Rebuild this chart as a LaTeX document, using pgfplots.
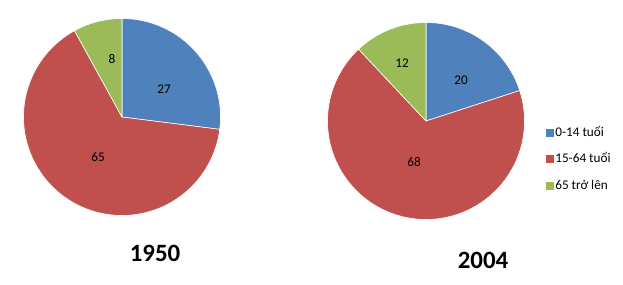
\documentclass[border=0pt]{standalone}
\usepackage{pgfplots}
\pgfplotsset{compat=1.18}
\usepackage{fontspec}
\setmainfont{Carlito}
\definecolor{cblue}{HTML}{4F81BD}
\definecolor{cred}{HTML}{C0504D}
\definecolor{cgreen}{HTML}{9BBB59}
% data (percent)
\def\LA{27}\def\LB{65}\def\LC{8}   % 1950
\def\RA{20}\def\RB{68}\def\RC{12}  % 2004
\pgfmathsetmacro\La{90-3.6*\LA}
\pgfmathsetmacro\Lb{\La-3.6*\LB}
\pgfmathsetmacro\Lc{\Lb-3.6*\LC}
\pgfmathsetmacro\Ra{90-3.6*\RA}
\pgfmathsetmacro\Rb{\Ra-3.6*\RB}
\pgfmathsetmacro\Rc{\Rb-3.6*\RC}
\newcommand\pieslice[6]{%
  \addplot[fill=#1, draw=white, line width=0.6bp, domain=#4:#5, samples=90, variable=\t, #6]
    ({#2+98.5*cos(\t)},{#3-98.5*sin(\t)}) -- (#2,#3) -- cycle;}
\begin{document}
\begin{tikzpicture}
\begin{axis}[
  width=623bp, height=285bp, scale only axis,
  xmin=0, xmax=623, ymin=0, ymax=285, y dir=reverse,
  hide axis, clip=false,
  legend style={at={(axis cs:545,125.5)}, anchor=north west, draw=none, fill=none,
    inner sep=0pt, row sep=12.5bp, font=\fontsize{13.3}{15}\selectfont,
    nodes={inner sep=0.5bp, text height=10bp, text depth=3bp}},
  legend cell align=left,
  legend image code/.code={\fill[#1] (0bp,-4.5bp) rectangle (9bp,4.5bp);},
]
\path (axis cs:0,0) rectangle (axis cs:623,285);
% 1950
\pieslice{cblue}{122}{117}{90}{\La}{forget plot}
\pieslice{cred}{122}{117}{\La}{\Lb}{forget plot}
\pieslice{cgreen}{122}{117}{\Lb}{\Lc}{forget plot}
% 2004
\pieslice{cblue}{426}{121}{90}{\Ra}{}
\addlegendentry{0-14 tuổi}
\pieslice{cred}{426}{121}{\Ra}{\Rb}{}
\addlegendentry{15-64 tuổi}
\pieslice{cgreen}{426}{121}{\Rb}{\Rc}{}
\addlegendentry{65 trở lên}
% labels
\begin{scope}[every node/.style={font=\fontsize{13.3}{15}\selectfont}]
\node at (axis cs:164,89) {\LA};
\node at (axis cs:98,157) {\LB};
\node at (axis cs:112,59) {\LC};
\node at (axis cs:461,80) {\RA};
\node at (axis cs:414,162) {\RB};
\node at (axis cs:402,63) {\RC};
\end{scope}
\node[font=\bfseries\fontsize{25}{30}\selectfont] at (axis cs:155,253) {1950};
\node[font=\bfseries\fontsize{25}{30}\selectfont] at (axis cs:483,260) {2004};
\end{axis}
\end{tikzpicture}
\end{document}
